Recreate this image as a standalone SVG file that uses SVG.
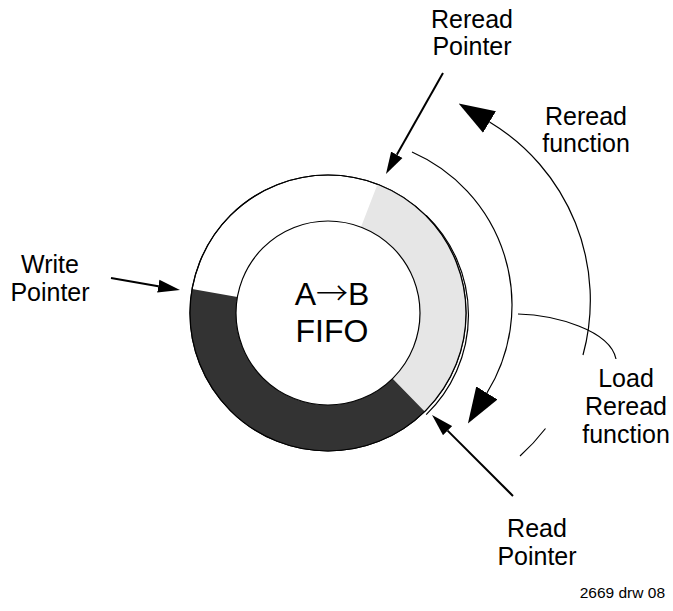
<svg xmlns="http://www.w3.org/2000/svg" width="673" height="611" viewBox="0 0 673 611">
<style>
text{font-family:"Liberation Sans",Arial,sans-serif;fill:#000;text-anchor:middle}
.lbl{font-size:25px}
.ctr{font-size:32px}
.arr{font-family:"Noto Sans CJK SC","DejaVu Sans",sans-serif;font-weight:300}
.note{font-size:15.5px;text-anchor:end}
.ring{stroke:#000;stroke-width:1.2}
.thin{fill:none;stroke:#000;stroke-width:1.2}
.ptr{fill:none;stroke:#000;stroke-width:2}
</style>
<defs>
<marker id="small" markerUnits="userSpaceOnUse" viewBox="0 -7 22 14" markerWidth="22" markerHeight="14" refX="0" refY="0" orient="auto">
<path d="M0,-6.5 L22,0 L0,6.5 Z" fill="#000"/>
</marker>
<marker id="big" markerUnits="userSpaceOnUse" viewBox="0 -13 36 26" markerWidth="36" markerHeight="26" refX="0" refY="0" orient="auto">
<path d="M0,-12.5 L36,0 L0,12.5 Z" fill="#000"/>
</marker>
</defs>
<rect width="673" height="611" fill="#fff"/>
<g id="fifo">
<circle cx="328" cy="313" r="138" fill="#fff" class="ring"/>
<path d="M377.5,184.2 A138,138 0 0 1 424.7,411.4 L392.5,378.6 A92,92 0 0 0 361,227.1 Z" fill="#e6e6e6"/>
<path d="M424.7,411.4 A138,138 0 0 1 192.1,289 L237.4,297 A92,92 0 0 0 392.5,378.6 Z" fill="#333"/>
<circle cx="328" cy="313" r="138" fill="none" class="ring"/>
<path d="M426.2,215.4 A138.5,138.5 0 0 1 426.2,414.6" class="thin"/>
<circle cx="328" cy="313" r="92" fill="#fff" class="ring"/>
<text class="ctr" x="332" y="305">A<tspan class="arr">→</tspan>B</text>
<text class="ctr" x="332" y="342">FIFO</text>
</g>
<g id="connectors">
<path d="M583,355 A208,208 0 0 0 489.5,122" class="thin" marker-end="url(#big)"/>
<path d="M545.5,428.5 A208,208 0 0 1 520,456" class="thin"/>
<path d="M412,152 A167,167 0 0 1 486.9,393" class="thin" marker-end="url(#big)"/>
<path d="M518,314 C555,315 610,330 616,359" class="thin"/>
<path d="M443,73 L396.8,154.8" class="ptr" marker-end="url(#small)"/>
<path d="M111,278 L158.3,286.2" class="ptr" marker-end="url(#small)"/>
<path d="M513,496 L447.6,430.6" class="ptr" marker-end="url(#small)"/>
</g>
<g id="reread-pointer">
<text class="lbl" x="472" y="28">Reread</text>
<text class="lbl" x="472" y="55">Pointer</text>
</g>
<g id="reread-function">
<text class="lbl" x="586" y="125">Reread</text>
<text class="lbl" x="586" y="152">function</text>
</g>
<g id="load-reread-function">
<text class="lbl" x="626" y="387">Load</text>
<text class="lbl" x="626" y="415">Reread</text>
<text class="lbl" x="626" y="443">function</text>
</g>
<g id="write-pointer">
<text class="lbl" x="50" y="273">Write</text>
<text class="lbl" x="50" y="301">Pointer</text>
</g>
<g id="read-pointer">
<text class="lbl" x="537" y="537">Read</text>
<text class="lbl" x="537" y="565">Pointer</text>
</g>
<text class="note" x="665" y="598">2669 drw 08</text>
</svg>
